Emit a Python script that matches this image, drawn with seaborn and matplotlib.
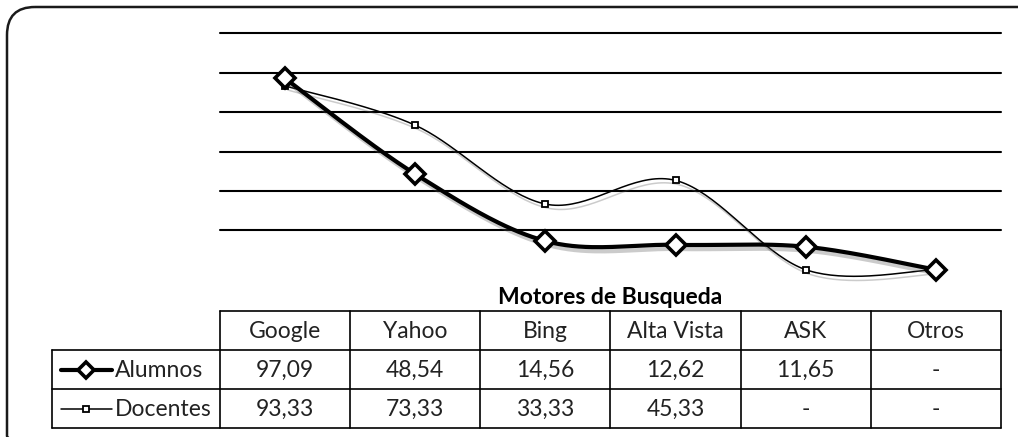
import numpy as np
import pandas as pd
import matplotlib
matplotlib.use("Agg")
import matplotlib.pyplot as plt
import matplotlib.patheffects as pe
from matplotlib.patches import FancyBboxPatch
from matplotlib.lines import Line2D
import seaborn as sns

# ---------------- data ----------------
categories = ["Google", "Yahoo", "Bing", "Alta Vista", "ASK", "Otros"]
alumnos = [97.09, 48.54, 14.56, 12.62, 11.65, 0.0]
docentes = [93.33, 73.33, 33.33, 45.33, 0.0, 0.0]
alumnos_txt = ["97,09", "48,54", "14,56", "12,62", "11,65", "-"]
docentes_txt = ["93,33", "73,33", "33,33", "45,33", "-", "-"]
series_names = ["Alumnos", "Docentes"]
axis_title = "Motores de Busqueda"
grid_ticks = [20, 40, 60, 80, 100, 120]

sns.set_theme(style="white")
plt.rcParams["font.family"] = ["Lato", "DejaVu Sans"]

W, H = 1018, 437
fig = plt.figure(figsize=(W / 100, H / 100), dpi=100)

# overlay axes in pixel coordinates (top-down) for frame and table
ov = fig.add_axes([0, 0, 1, 1], zorder=0)
ov.set_xlim(0, W)
ov.set_ylim(H, 0)
ov.axis("off")

# frame
frame = FancyBboxPatch((7, 7), W + 30, H + 20,
                       boxstyle="round,pad=0,rounding_size=28",
                       fill=False, edgecolor="#1a1a1a", linewidth=1.8)
ov.add_patch(frame)

# main plot axes
x0, x1 = 220, 1001
ytop, ybot = 33.3, 269.7
ax = fig.add_axes([x0 / W, (H - ybot) / H, (x1 - x0) / W, (ybot - ytop) / H], zorder=2)
ax.set_facecolor("none")
ax.set_xlim(-0.5, len(categories) - 0.5)
ax.set_ylim(0, 120)
ax.set_yticks(grid_ticks)
ax.set_yticklabels([])
ax.set_xticks([])
ax.tick_params(length=0)
ax.grid(axis="y", color="black", linewidth=1.5)
for gl in ax.get_ygridlines():
    gl.set_clip_on(False)
for s in ax.spines.values():
    s.set_visible(False)


def smooth(vals, n=40):
    # Bezier smoothing (Catmull-Rom style control points) between data points
    pts = np.column_stack([np.arange(len(vals)), np.asarray(vals, float)])
    P = np.vstack([pts[0], pts, pts[-1]])
    out = []
    t = np.linspace(0, 1, n)[:, None]
    for i in range(1, len(P) - 2):
        p0, p1, p2, p3 = P[i - 1], P[i], P[i + 1], P[i + 2]
        c1 = p1 + (p2 - p0) / 6.0
        c2 = p2 - (p3 - p1) / 6.0
        seg = ((1 - t) ** 3) * p1 + 3 * ((1 - t) ** 2) * t * c1 + 3 * (1 - t) * t ** 2 * c2 + t ** 3 * p2
        out.append(seg if i == 1 else seg[1:])
    return np.vstack(out)


shadow = [pe.SimpleLineShadow(offset=(2, -3), shadow_color="#555555", alpha=0.3), pe.Normal()]

styles = {
    "Alumnos": dict(lw=3.0, marker="D", ms=10, mew=2.6),
    "Docentes": dict(lw=1.1, marker="s", ms=5, mew=1.3),
}

for name, vals in [("Docentes", docentes), ("Alumnos", alumnos)]:
    st = styles[name]
    curve = smooth(vals)
    df = pd.DataFrame({"x": curve[:, 0], "y": curve[:, 1]})
    sns.lineplot(data=df, x="x", y="y", ax=ax, color="black", linewidth=st["lw"],
                 sort=False, estimator=None, path_effects=shadow, zorder=3)
    ax.plot(range(len(vals)), vals, linestyle="none", marker=st["marker"], ms=st["ms"],
            mfc="white", mec="black", mew=st["mew"], zorder=4, clip_on=False)

for ln in ax.lines:
    ln.set_clip_on(False)

ax.set_xlabel("")
ax.set_ylabel("")

# ---------------- data table ----------------
def xpix(i):
    return ax.transData.transform((i, 0))[0]

col_edges = [xpix(i - 0.5) for i in range(len(categories) + 1)]
row_y = [311, 350, 389, 428]
left = 52
lc = "black"
lw = 1.2

ov.plot([col_edges[0], col_edges[-1]], [row_y[0], row_y[0]], color=lc, lw=lw)
for y in row_y[1:]:
    ov.plot([left, col_edges[-1]], [y, y], color=lc, lw=lw)
for xe in col_edges:
    ov.plot([xe, xe], [row_y[0], row_y[-1]], color=lc, lw=lw)
ov.plot([left, left], [row_y[1], row_y[-1]], color=lc, lw=lw)

fs = 16.5
for i, c in enumerate(categories):
    xc = xpix(i)
    ov.text(xc, (row_y[0] + row_y[1]) / 2 + 1, c, ha="center", va="center", fontsize=fs, color="#222222")
    ov.text(xc, (row_y[1] + row_y[2]) / 2 + 1, alumnos_txt[i], ha="center", va="center", fontsize=fs, color="#222222")
    ov.text(xc, (row_y[2] + row_y[3]) / 2 + 1, docentes_txt[i], ha="center", va="center", fontsize=fs, color="#222222")

ov.text((col_edges[0] + col_edges[-1]) / 2, 298, axis_title, ha="center", va="center",
        fontsize=16.5, fontweight="bold", color="black")

# legend keys inside table
for r, name in enumerate(series_names):
    st = styles[name]
    yc = (row_y[r + 1] + row_y[r + 2]) / 2
    ov.add_line(Line2D([61, 112], [yc, yc], color="black", lw=st["lw"]))
    ov.add_line(Line2D([86.5], [yc], marker=st["marker"], ms=st["ms"] * 0.8, mfc="white",
                       mec="black", mew=st["mew"], linestyle="none"))
    ov.text(115, yc + 1, name, ha="left", va="center", fontsize=fs, color="#222222")

fig.savefig("out.png", dpi=100)
